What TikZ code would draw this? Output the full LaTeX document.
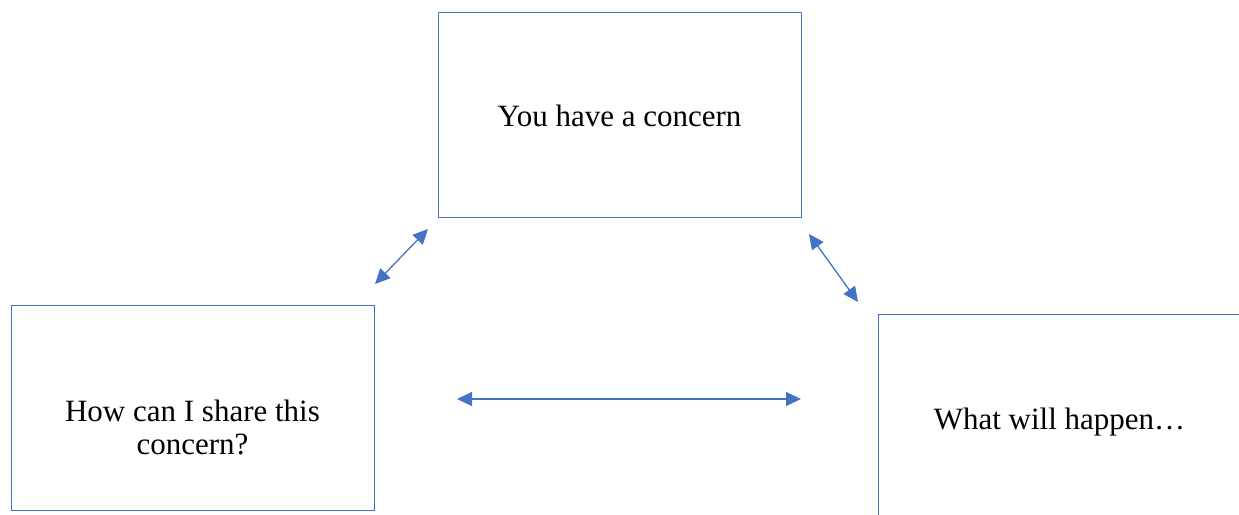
\documentclass[tikz,border=0pt]{standalone}
\usepackage{fontspec}
\setmainfont{Liberation Serif}
\usetikzlibrary{arrows.meta}
\definecolor{frame}{HTML}{4472C4}
\tikzset{
  box/.style={draw=frame, line width=1pt, minimum width=363pt, minimum height=205pt,
    inner sep=0pt},
  caption/.style={inner sep=0pt, align=center, font=\fontsize{31}{33}\selectfont, text=black},
  link/.style={draw=frame, line width=1.3pt,
    {Triangle[length=15pt,width=14pt]}-{Triangle[length=15pt,width=14pt]}}
}
\begin{document}
\begin{tikzpicture}[x=1pt,y=-1pt]
  \clip (0,0) rectangle (1239,514);
  \fill[white] (0,0) rectangle (1239,514);
  % three boxes
  \node[box] (top) at (619.5,114.5) {};
  \node[box] (left) at (192.5,407.5) {};
  \node[box] (right) at (1059.5,416.5) {};
  % their captions
  \node[caption] (topText) at (619.5,116) {You have a concern};
  \node[caption] (leftText) at (192.5,427) {How can I share this\\concern?};
  \node[caption] (rightText) at (1059.5,422) {What will happen…};
  % double-headed links
  \coordinate (tlA) at (375,284);
  \coordinate (tlB) at (428,229);
  \coordinate (trA) at (809,234);
  \coordinate (trB) at (858,302);
  \coordinate (mA) at (457,399);
  \coordinate (mB) at (801,399);
  \draw[link] (tlA) -- (tlB);
  \draw[link] (trA) -- (trB);
  \draw[link] (mA) -- (mB);
\end{tikzpicture}
\end{document}
